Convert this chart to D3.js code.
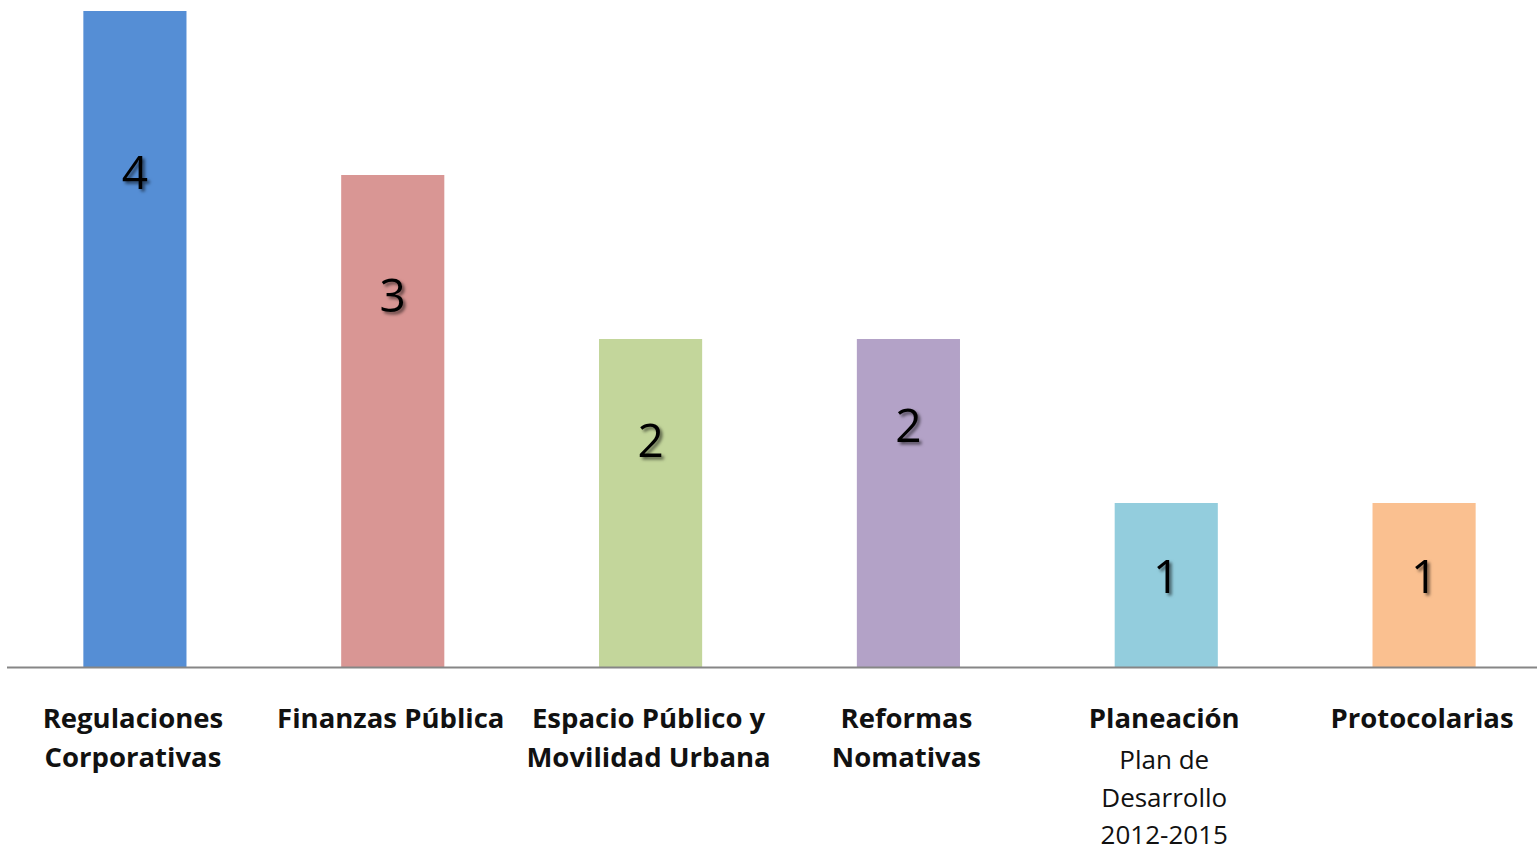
<!DOCTYPE html>
<html><head><meta charset="utf-8">
<script src="https://cdn.jsdelivr.net/npm/d3@7"></script>
<style>html,body{margin:0;padding:0;background:#fff;overflow:hidden}</style>
</head><body>
<svg id="chart" width="1537" height="855"></svg>
<script>
const categories = ["Regulaciones Corporativas","Finanzas Pública","Espacio Público y Movilidad Urbana","Reformas Nomativas","Planeación","Protocolarias"];
const boldLines = [["Regulaciones","Corporativas"],["Finanzas Pública"],["Espacio Público y","Movilidad Urbana"],["Reformas","Nomativas"],["Planeación"],["Protocolarias"]];
const subLines = [[],[],[],[],["Plan de","Desarrollo","2012-2015"],[]];
const values = [4,3,2,2,1,1];
const labelPos = [3.01,2.26,1.38,1.47,0.55,0.55];
const colors = ["#558ED5","#D99694","#C3D69B","#B3A2C7","#93CDDD","#FAC090"];

const svg = d3.select("#chart");
const font = "'Open Sans', 'Noto Sans', sans-serif";
const defs = svg.append("defs");
const f = defs.append("filter").attr("id","sh").attr("x","-50%").attr("y","-50%").attr("width","200%").attr("height","200%");
f.append("feDropShadow").attr("dx",2.5).attr("dy",2.5).attr("stdDeviation",1.6).attr("flood-color","#000").attr("flood-opacity",0.55);

const x = d3.scaleBand().domain(categories).range([6,1553]).paddingInner(0.6).paddingOuter(0.3);
const y = d3.scaleLinear().domain([0,4]).range([667,11]);

svg.selectAll("rect.bar").data(values).join("rect").attr("class","bar")
  .attr("x",(d,i)=>x(categories[i])).attr("width",x.bandwidth())
  .attr("y",d=>y(d)).attr("height",d=>y(0)-y(d)).attr("fill",(d,i)=>colors[i]);

svg.append("line").attr("x1",7).attr("x2",1537).attr("y1",y(0)+0.5).attr("y2",y(0)+0.5)
  .attr("stroke","#868686").attr("stroke-width",2);

svg.selectAll("text.val").data(values).join("text").attr("class","val")
  .attr("x",(d,i)=>x(categories[i])+x.bandwidth()/2)
  .attr("y",(d,i)=>y(labelPos[i])).attr("dy","0.35em")
  .attr("text-anchor","middle").attr("font-family",font).attr("font-size",46)
  .attr("fill","#000").attr("filter","url(#sh)").text(d=>d);

const lab = svg.selectAll("g.lab").data(categories).join("g").attr("class","lab")
  .attr("transform",(d,i)=>`translate(${x(d)+x.bandwidth()/2 - 2},0)`);
lab.each(function(d,i){
  const g = d3.select(this);
  boldLines[i].forEach((t,j)=>{
    g.append("text").attr("x",0).attr("y",728+j*39).attr("text-anchor","middle")
      .attr("font-family",font).attr("font-weight","bold").attr("font-size",27.5).attr("fill","#111").text(t);
  });
  subLines[i].forEach((t,j)=>{
    g.append("text").attr("x",0).attr("y",769+j*37.5).attr("text-anchor","middle")
      .attr("font-family",font).attr("font-size",26).attr("fill","#111").text(t);
  });
});
</script>
</body></html>
